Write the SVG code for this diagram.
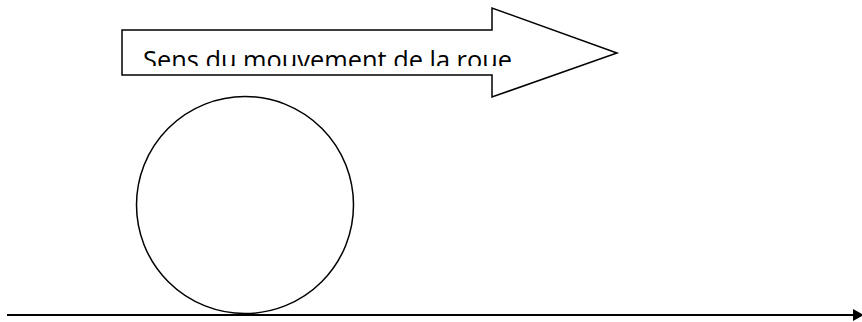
<svg xmlns="http://www.w3.org/2000/svg" width="862" height="322" viewBox="0 0 862 322">
<style>
.s{fill:#fff;stroke:#000;stroke-width:1.5}
.t{font-family:"Open Sans","Liberation Sans",sans-serif;font-size:25px;fill:#000}
</style>
<defs>
<clipPath id="c"><rect x="123" y="31" width="400" height="35"/></clipPath>
<marker id="ah" markerWidth="12" markerHeight="12" refX="0" refY="6" orient="auto" markerUnits="userSpaceOnUse"><path d="M0,0 L11,6 L0,12 Z" fill="#000"/></marker>
</defs>
<rect width="862" height="322" fill="#fff"/>
<g id="arrow">
<path class="s" d="M122,30 L492,30 L492,8 L617,53 L492,97 L492,75 L122,75 Z"/>
<text class="t" x="143" y="69" clip-path="url(#c)" textLength="369" lengthAdjust="spacingAndGlyphs">Sens du mouvement de la roue</text>
</g>
<g id="wheel">
<circle class="s" cx="245" cy="205" r="108.5"/>
</g>
<g id="connectors">
<line x1="7" y1="315" x2="853" y2="315" stroke="#000" stroke-width="2" marker-end="url(#ah)"/>
</g>
</svg>
